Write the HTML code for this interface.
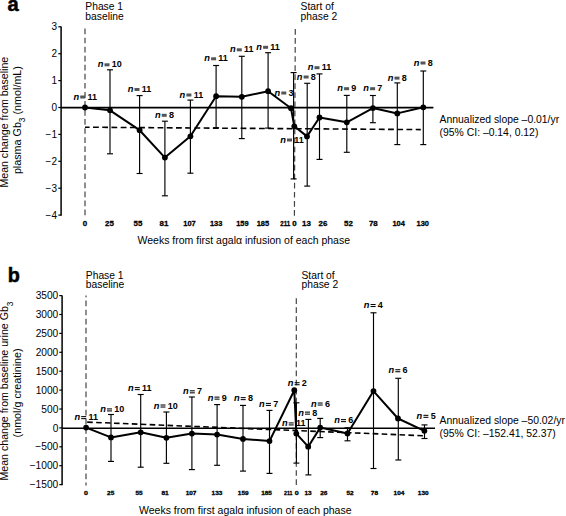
<!DOCTYPE html>
<html><head><meta charset="utf-8"><style>
html,body{margin:0;padding:0;background:#fff;width:566px;height:516px;overflow:hidden}
svg{display:block}
text{font-family:"Liberation Sans", sans-serif}
</style></head><body>
<svg width="566" height="516" viewBox="0 0 566 516">
<rect width="566" height="516" fill="#fff"/>
<g font-family='"Liberation Sans", sans-serif' fill="#000">
<text x="7.4" y="11.2" font-size="20.2" font-weight="bold" stroke="#000" stroke-width="0.5">a</text>
<text x="7.7" y="282.3" font-size="19.8" font-weight="bold" stroke="#000" stroke-width="0.5">b</text>
<text x="85.3" y="10.1" font-size="10.3">Phase 1</text><text x="85.3" y="19.6" font-size="10.3">baseline</text>
<text x="300.6" y="9.8" font-size="10.3">Start of</text><text x="300.6" y="19.5" font-size="10.3">phase 2</text>
<text x="85.8" y="278.9" font-size="10.3">Phase 1</text><text x="85.8" y="288.3" font-size="10.3">baseline</text>
<text x="301.5" y="278.7" font-size="10.3">Start of</text><text x="301.5" y="287.9" font-size="10.3">phase 2</text>
<line x1="61.1" y1="26.5" x2="61.1" y2="215.8" stroke="#000" stroke-width="1.5"/>
<line x1="58.300000000000004" y1="26.80" x2="61.1" y2="26.80" stroke="#000" stroke-width="1.2"/>
<text x="57.0" y="30.20" text-anchor="end" font-size="10.0">3</text>
<line x1="58.300000000000004" y1="53.70" x2="61.1" y2="53.70" stroke="#000" stroke-width="1.2"/>
<text x="57.0" y="57.10" text-anchor="end" font-size="10.0">2</text>
<line x1="58.300000000000004" y1="80.60" x2="61.1" y2="80.60" stroke="#000" stroke-width="1.2"/>
<text x="57.0" y="84.00" text-anchor="end" font-size="10.0">1</text>
<line x1="58.300000000000004" y1="107.50" x2="61.1" y2="107.50" stroke="#000" stroke-width="1.2"/>
<text x="57.0" y="110.90" text-anchor="end" font-size="10.0">0</text>
<line x1="58.300000000000004" y1="134.40" x2="61.1" y2="134.40" stroke="#000" stroke-width="1.2"/>
<text x="57.0" y="137.80" text-anchor="end" font-size="10.0">−1</text>
<line x1="58.300000000000004" y1="161.30" x2="61.1" y2="161.30" stroke="#000" stroke-width="1.2"/>
<text x="57.0" y="164.70" text-anchor="end" font-size="10.0">−2</text>
<line x1="58.300000000000004" y1="188.20" x2="61.1" y2="188.20" stroke="#000" stroke-width="1.2"/>
<text x="57.0" y="191.60" text-anchor="end" font-size="10.0">−3</text>
<line x1="58.300000000000004" y1="215.10" x2="61.1" y2="215.10" stroke="#000" stroke-width="1.2"/>
<text x="57.0" y="218.50" text-anchor="end" font-size="10.0">−4</text>
<line x1="61.1" y1="107.6" x2="433.4" y2="107.6" stroke="#000" stroke-width="1.6"/>
<line x1="85" y1="28.6" x2="85" y2="216" stroke="#444" stroke-width="1.2" stroke-dasharray="5.7 3.35" stroke-dashoffset="0"/>
<line x1="295.3" y1="29" x2="294.4" y2="216" stroke="#444" stroke-width="1.2" stroke-dasharray="5.7 3.35" stroke-dashoffset="0"/>
<line x1="85" y1="127.2" x2="420.8" y2="129.6" stroke="#000" stroke-width="1.6" stroke-dasharray="5.8 3.42" stroke-dashoffset="1.2"/>
<line x1="110" y1="69.8" x2="110" y2="153.8" stroke="#000" stroke-width="1.15"/>
<line x1="107" y1="69.8" x2="113" y2="69.8" stroke="#000" stroke-width="1.15"/>
<line x1="107" y1="153.8" x2="113" y2="153.8" stroke="#000" stroke-width="1.15"/>
<line x1="139.6" y1="95.6" x2="139.6" y2="173.5" stroke="#000" stroke-width="1.15"/>
<line x1="136.6" y1="95.6" x2="142.6" y2="95.6" stroke="#000" stroke-width="1.15"/>
<line x1="136.6" y1="173.5" x2="142.6" y2="173.5" stroke="#000" stroke-width="1.15"/>
<line x1="164.9" y1="121.2" x2="164.9" y2="195.8" stroke="#000" stroke-width="1.15"/>
<line x1="161.9" y1="121.2" x2="167.9" y2="121.2" stroke="#000" stroke-width="1.15"/>
<line x1="161.9" y1="195.8" x2="167.9" y2="195.8" stroke="#000" stroke-width="1.15"/>
<line x1="190.4" y1="100.1" x2="190.4" y2="173.2" stroke="#000" stroke-width="1.15"/>
<line x1="187.4" y1="100.1" x2="193.4" y2="100.1" stroke="#000" stroke-width="1.15"/>
<line x1="187.4" y1="173.2" x2="193.4" y2="173.2" stroke="#000" stroke-width="1.15"/>
<line x1="216.1" y1="65.5" x2="216.1" y2="127.8" stroke="#000" stroke-width="1.15"/>
<line x1="213.1" y1="65.5" x2="219.1" y2="65.5" stroke="#000" stroke-width="1.15"/>
<line x1="213.1" y1="127.8" x2="219.1" y2="127.8" stroke="#000" stroke-width="1.15"/>
<line x1="241.8" y1="56.3" x2="241.8" y2="138.6" stroke="#000" stroke-width="1.15"/>
<line x1="238.8" y1="56.3" x2="244.8" y2="56.3" stroke="#000" stroke-width="1.15"/>
<line x1="238.8" y1="138.6" x2="244.8" y2="138.6" stroke="#000" stroke-width="1.15"/>
<line x1="268.1" y1="52.7" x2="268.1" y2="128.1" stroke="#000" stroke-width="1.15"/>
<line x1="265.1" y1="52.7" x2="271.1" y2="52.7" stroke="#000" stroke-width="1.15"/>
<line x1="265.1" y1="128.1" x2="271.1" y2="128.1" stroke="#000" stroke-width="1.15"/>
<line x1="293.6" y1="72.6" x2="293.6" y2="178.9" stroke="#000" stroke-width="1.15"/>
<line x1="290.6" y1="72.6" x2="296.6" y2="72.6" stroke="#000" stroke-width="1.15"/>
<line x1="290.6" y1="178.9" x2="296.6" y2="178.9" stroke="#000" stroke-width="1.15"/>
<line x1="307.2" y1="83.3" x2="307.2" y2="186.1" stroke="#000" stroke-width="1.15"/>
<line x1="304.2" y1="83.3" x2="310.2" y2="83.3" stroke="#000" stroke-width="1.15"/>
<line x1="304.2" y1="186.1" x2="310.2" y2="186.1" stroke="#000" stroke-width="1.15"/>
<line x1="319.5" y1="73.9" x2="319.5" y2="159.4" stroke="#000" stroke-width="1.15"/>
<line x1="316.5" y1="73.9" x2="322.5" y2="73.9" stroke="#000" stroke-width="1.15"/>
<line x1="316.5" y1="159.4" x2="322.5" y2="159.4" stroke="#000" stroke-width="1.15"/>
<line x1="346.8" y1="95.4" x2="346.8" y2="152.3" stroke="#000" stroke-width="1.15"/>
<line x1="343.8" y1="95.4" x2="349.8" y2="95.4" stroke="#000" stroke-width="1.15"/>
<line x1="343.8" y1="152.3" x2="349.8" y2="152.3" stroke="#000" stroke-width="1.15"/>
<line x1="372.9" y1="95.5" x2="372.9" y2="122.7" stroke="#000" stroke-width="1.15"/>
<line x1="369.9" y1="95.5" x2="375.9" y2="95.5" stroke="#000" stroke-width="1.15"/>
<line x1="369.9" y1="122.7" x2="375.9" y2="122.7" stroke="#000" stroke-width="1.15"/>
<line x1="397.3" y1="82.9" x2="397.3" y2="144.6" stroke="#000" stroke-width="1.15"/>
<line x1="394.3" y1="82.9" x2="400.3" y2="82.9" stroke="#000" stroke-width="1.15"/>
<line x1="394.3" y1="144.6" x2="400.3" y2="144.6" stroke="#000" stroke-width="1.15"/>
<line x1="423.3" y1="71" x2="423.3" y2="144.6" stroke="#000" stroke-width="1.15"/>
<line x1="420.3" y1="71" x2="426.3" y2="71" stroke="#000" stroke-width="1.15"/>
<line x1="420.3" y1="144.6" x2="426.3" y2="144.6" stroke="#000" stroke-width="1.15"/>
<polyline points="85,107.5 110,110.3 139.6,130.2 164.9,157.6 190.4,136.3 216.1,96.2 241.8,96.8 268.1,91.2 291,108.2 294.3,126.3 307,136.4 319.5,117.5 346.8,122.3 372.9,108.1 397.3,113.4 423.3,107.3" fill="none" stroke="#000" stroke-width="2" stroke-linejoin="round"/>
<circle cx="85" cy="107.5" r="2.9" fill="#000"/>
<circle cx="110" cy="110.3" r="2.9" fill="#000"/>
<circle cx="139.6" cy="130.2" r="2.9" fill="#000"/>
<circle cx="164.9" cy="157.6" r="2.9" fill="#000"/>
<circle cx="190.4" cy="136.3" r="2.9" fill="#000"/>
<circle cx="216.1" cy="96.2" r="2.9" fill="#000"/>
<circle cx="241.8" cy="96.8" r="2.9" fill="#000"/>
<circle cx="268.1" cy="91.2" r="2.9" fill="#000"/>
<circle cx="291" cy="108.2" r="2.9" fill="#000"/>
<circle cx="294.3" cy="126.3" r="2.9" fill="#000"/>
<circle cx="307" cy="136.4" r="2.9" fill="#000"/>
<circle cx="319.5" cy="117.5" r="2.9" fill="#000"/>
<circle cx="346.8" cy="122.3" r="2.9" fill="#000"/>
<circle cx="372.9" cy="108.1" r="2.9" fill="#000"/>
<circle cx="397.3" cy="113.4" r="2.9" fill="#000"/>
<circle cx="423.3" cy="107.3" r="2.9" fill="#000"/>
<text x="73.40" y="99.50" font-size="9.3" font-weight="bold" font-style="italic">n</text><rect x="80.20" y="95.50" width="5" height="3" fill="#555"/><text x="87.45" y="99.50" font-size="9" font-weight="bold">11</text>
<text x="97.70" y="67.30" font-size="9.3" font-weight="bold" font-style="italic">n</text><rect x="104.50" y="63.30" width="5" height="3" fill="#555"/><text x="111.75" y="67.30" font-size="9" font-weight="bold">10</text>
<text x="127.70" y="92.00" font-size="9.3" font-weight="bold" font-style="italic">n</text><rect x="134.50" y="88.00" width="5" height="3" fill="#555"/><text x="141.75" y="92.00" font-size="9" font-weight="bold">11</text>
<text x="154.90" y="117.80" font-size="9.3" font-weight="bold" font-style="italic">n</text><rect x="161.70" y="113.80" width="5" height="3" fill="#555"/><text x="168.95" y="117.80" font-size="9" font-weight="bold">8</text>
<text x="179.60" y="97.50" font-size="9.3" font-weight="bold" font-style="italic">n</text><rect x="186.40" y="93.50" width="5" height="3" fill="#555"/><text x="193.65" y="97.50" font-size="9" font-weight="bold">11</text>
<text x="204.30" y="61.30" font-size="9.3" font-weight="bold" font-style="italic">n</text><rect x="211.10" y="57.30" width="5" height="3" fill="#555"/><text x="218.35" y="61.30" font-size="9" font-weight="bold">11</text>
<text x="230.00" y="52.30" font-size="9.3" font-weight="bold" font-style="italic">n</text><rect x="236.80" y="48.30" width="5" height="3" fill="#555"/><text x="244.05" y="52.30" font-size="9" font-weight="bold">11</text>
<text x="256.30" y="49.80" font-size="9.3" font-weight="bold" font-style="italic">n</text><rect x="263.10" y="45.80" width="5" height="3" fill="#555"/><text x="270.35" y="49.80" font-size="9" font-weight="bold">11</text>
<text x="274.50" y="95.50" font-size="9.3" font-weight="bold" font-style="italic">n</text><rect x="281.30" y="91.50" width="5" height="3" fill="#555"/><text x="288.55" y="95.50" font-size="9" font-weight="bold">3</text>
<text x="280.20" y="142.50" font-size="9.3" font-weight="bold" font-style="italic">n</text><rect x="287.00" y="138.50" width="5" height="3" fill="#555"/><text x="294.25" y="142.50" font-size="9" font-weight="bold">11</text>
<text x="296.80" y="79.50" font-size="9.3" font-weight="bold" font-style="italic">n</text><rect x="303.60" y="75.50" width="5" height="3" fill="#555"/><text x="310.85" y="79.50" font-size="9" font-weight="bold">8</text>
<text x="307.70" y="70.20" font-size="9.3" font-weight="bold" font-style="italic">n</text><rect x="314.50" y="66.20" width="5" height="3" fill="#555"/><text x="321.75" y="70.20" font-size="9" font-weight="bold">11</text>
<text x="337.30" y="91.20" font-size="9.3" font-weight="bold" font-style="italic">n</text><rect x="344.10" y="87.20" width="5" height="3" fill="#555"/><text x="351.35" y="91.20" font-size="9" font-weight="bold">9</text>
<text x="363.30" y="91.20" font-size="9.3" font-weight="bold" font-style="italic">n</text><rect x="370.10" y="87.20" width="5" height="3" fill="#555"/><text x="377.35" y="91.20" font-size="9" font-weight="bold">7</text>
<text x="387.70" y="80.60" font-size="9.3" font-weight="bold" font-style="italic">n</text><rect x="394.50" y="76.60" width="5" height="3" fill="#555"/><text x="401.75" y="80.60" font-size="9" font-weight="bold">8</text>
<text x="413.70" y="65.50" font-size="9.3" font-weight="bold" font-style="italic">n</text><rect x="420.50" y="61.50" width="5" height="3" fill="#555"/><text x="427.75" y="65.50" font-size="9" font-weight="bold">8</text>
<text x="82.80" y="226.1" font-size="7.9" font-weight="bold" stroke="#000" stroke-width="0.3" textLength="4.40" lengthAdjust="spacingAndGlyphs">0</text>
<text x="105.10" y="226.1" font-size="7.9" font-weight="bold" stroke="#000" stroke-width="0.3" textLength="8.80" lengthAdjust="spacingAndGlyphs">25</text>
<text x="133.60" y="226.1" font-size="7.9" font-weight="bold" stroke="#000" stroke-width="0.3" textLength="8.80" lengthAdjust="spacingAndGlyphs">55</text>
<text x="159.60" y="226.1" font-size="7.9" font-weight="bold" stroke="#000" stroke-width="0.3" textLength="8.80" lengthAdjust="spacingAndGlyphs">81</text>
<text x="183.30" y="226.1" font-size="7.9" font-weight="bold" stroke="#000" stroke-width="0.3" textLength="12.40" lengthAdjust="spacingAndGlyphs">107</text>
<text x="209.90" y="226.1" font-size="7.9" font-weight="bold" stroke="#000" stroke-width="0.3" textLength="12.40" lengthAdjust="spacingAndGlyphs">133</text>
<text x="236.20" y="226.1" font-size="7.9" font-weight="bold" stroke="#000" stroke-width="0.3" textLength="12.40" lengthAdjust="spacingAndGlyphs">159</text>
<text x="256.70" y="226.1" font-size="7.9" font-weight="bold" stroke="#000" stroke-width="0.3" textLength="12.40" lengthAdjust="spacingAndGlyphs">185</text>
<text x="280.30" y="226.1" font-size="7.9" font-weight="bold" stroke="#000" stroke-width="0.3" textLength="10.00" lengthAdjust="spacingAndGlyphs">211</text>
<text x="292.20" y="226.1" font-size="7.9" font-weight="bold" stroke="#000" stroke-width="0.3" textLength="4.40" lengthAdjust="spacingAndGlyphs">0</text>
<text x="302.10" y="226.1" font-size="7.9" font-weight="bold" stroke="#000" stroke-width="0.3" textLength="8.80" lengthAdjust="spacingAndGlyphs">13</text>
<text x="318.50" y="226.1" font-size="7.9" font-weight="bold" stroke="#000" stroke-width="0.3" textLength="8.80" lengthAdjust="spacingAndGlyphs">26</text>
<text x="344.10" y="226.1" font-size="7.9" font-weight="bold" stroke="#000" stroke-width="0.3" textLength="8.80" lengthAdjust="spacingAndGlyphs">52</text>
<text x="368.90" y="226.1" font-size="7.9" font-weight="bold" stroke="#000" stroke-width="0.3" textLength="8.80" lengthAdjust="spacingAndGlyphs">78</text>
<text x="392.40" y="226.1" font-size="7.9" font-weight="bold" stroke="#000" stroke-width="0.3" textLength="12.40" lengthAdjust="spacingAndGlyphs">104</text>
<text x="416.60" y="226.1" font-size="7.9" font-weight="bold" stroke="#000" stroke-width="0.3" textLength="12.40" lengthAdjust="spacingAndGlyphs">130</text>
<line x1="62.1" y1="295.6" x2="62.1" y2="485.3" stroke="#000" stroke-width="1.5"/>
<line x1="59.300000000000004" y1="295.60" x2="62.1" y2="295.60" stroke="#000" stroke-width="1.2"/>
<text x="58.300000000000004" y="299.20" text-anchor="end" font-size="10.2">3500</text>
<line x1="59.300000000000004" y1="314.50" x2="62.1" y2="314.50" stroke="#000" stroke-width="1.2"/>
<text x="58.300000000000004" y="318.10" text-anchor="end" font-size="10.2">3000</text>
<line x1="59.300000000000004" y1="333.40" x2="62.1" y2="333.40" stroke="#000" stroke-width="1.2"/>
<text x="58.300000000000004" y="337.00" text-anchor="end" font-size="10.2">2500</text>
<line x1="59.300000000000004" y1="352.30" x2="62.1" y2="352.30" stroke="#000" stroke-width="1.2"/>
<text x="58.300000000000004" y="355.90" text-anchor="end" font-size="10.2">2000</text>
<line x1="59.300000000000004" y1="371.20" x2="62.1" y2="371.20" stroke="#000" stroke-width="1.2"/>
<text x="58.300000000000004" y="374.80" text-anchor="end" font-size="10.2">1500</text>
<line x1="59.300000000000004" y1="390.10" x2="62.1" y2="390.10" stroke="#000" stroke-width="1.2"/>
<text x="58.300000000000004" y="393.70" text-anchor="end" font-size="10.2">1000</text>
<line x1="59.300000000000004" y1="409.00" x2="62.1" y2="409.00" stroke="#000" stroke-width="1.2"/>
<text x="58.300000000000004" y="412.60" text-anchor="end" font-size="10.2">500</text>
<line x1="59.300000000000004" y1="427.90" x2="62.1" y2="427.90" stroke="#000" stroke-width="1.2"/>
<text x="58.300000000000004" y="431.50" text-anchor="end" font-size="10.2">0</text>
<line x1="59.300000000000004" y1="446.80" x2="62.1" y2="446.80" stroke="#000" stroke-width="1.2"/>
<text x="58.300000000000004" y="450.40" text-anchor="end" font-size="10.2">−500</text>
<line x1="59.300000000000004" y1="465.70" x2="62.1" y2="465.70" stroke="#000" stroke-width="1.2"/>
<text x="58.300000000000004" y="469.30" text-anchor="end" font-size="10.2">−1000</text>
<line x1="59.300000000000004" y1="484.60" x2="62.1" y2="484.60" stroke="#000" stroke-width="1.2"/>
<text x="58.300000000000004" y="488.20" text-anchor="end" font-size="10.2">−1500</text>
<line x1="62.1" y1="428.2" x2="435" y2="428.2" stroke="#000" stroke-width="1.6"/>
<line x1="86" y1="295.4" x2="86" y2="485.5" stroke="#444" stroke-width="1.2" stroke-dasharray="5.7 3.40" stroke-dashoffset="3.95"/>
<line x1="296.3" y1="298.2" x2="296.3" y2="485.5" stroke="#444" stroke-width="1.2" stroke-dasharray="5.7 3.35" stroke-dashoffset="0"/>
<line x1="87.2" y1="422.1" x2="422.9" y2="435.7" stroke="#000" stroke-width="1.6" stroke-dasharray="5.6 3.33" stroke-dashoffset="0"/>
<line x1="111" y1="414.5" x2="111" y2="461.4" stroke="#000" stroke-width="1.15"/>
<line x1="108" y1="414.5" x2="114" y2="414.5" stroke="#000" stroke-width="1.15"/>
<line x1="108" y1="461.4" x2="114" y2="461.4" stroke="#000" stroke-width="1.15"/>
<line x1="140.7" y1="394.5" x2="140.7" y2="467.2" stroke="#000" stroke-width="1.15"/>
<line x1="137.7" y1="394.5" x2="143.7" y2="394.5" stroke="#000" stroke-width="1.15"/>
<line x1="137.7" y1="467.2" x2="143.7" y2="467.2" stroke="#000" stroke-width="1.15"/>
<line x1="166.4" y1="412" x2="166.4" y2="463.3" stroke="#000" stroke-width="1.15"/>
<line x1="163.4" y1="412" x2="169.4" y2="412" stroke="#000" stroke-width="1.15"/>
<line x1="163.4" y1="463.3" x2="169.4" y2="463.3" stroke="#000" stroke-width="1.15"/>
<line x1="191.9" y1="397" x2="191.9" y2="469.6" stroke="#000" stroke-width="1.15"/>
<line x1="188.9" y1="397" x2="194.9" y2="397" stroke="#000" stroke-width="1.15"/>
<line x1="188.9" y1="469.6" x2="194.9" y2="469.6" stroke="#000" stroke-width="1.15"/>
<line x1="217.1" y1="404.6" x2="217.1" y2="465.3" stroke="#000" stroke-width="1.15"/>
<line x1="214.1" y1="404.6" x2="220.1" y2="404.6" stroke="#000" stroke-width="1.15"/>
<line x1="214.1" y1="465.3" x2="220.1" y2="465.3" stroke="#000" stroke-width="1.15"/>
<line x1="243" y1="405.4" x2="243" y2="471.1" stroke="#000" stroke-width="1.15"/>
<line x1="240" y1="405.4" x2="246" y2="405.4" stroke="#000" stroke-width="1.15"/>
<line x1="240" y1="471.1" x2="246" y2="471.1" stroke="#000" stroke-width="1.15"/>
<line x1="269.5" y1="410.4" x2="269.5" y2="473.4" stroke="#000" stroke-width="1.15"/>
<line x1="266.5" y1="410.4" x2="272.5" y2="410.4" stroke="#000" stroke-width="1.15"/>
<line x1="266.5" y1="473.4" x2="272.5" y2="473.4" stroke="#000" stroke-width="1.15"/>
<line x1="296.4" y1="402.8" x2="296.4" y2="463.1" stroke="#000" stroke-width="1.15"/>
<line x1="293.4" y1="402.8" x2="299.4" y2="402.8" stroke="#000" stroke-width="1.15"/>
<line x1="293.4" y1="463.1" x2="299.4" y2="463.1" stroke="#000" stroke-width="1.15"/>
<line x1="308.4" y1="419.4" x2="308.4" y2="474.9" stroke="#000" stroke-width="1.15"/>
<line x1="305.4" y1="419.4" x2="311.4" y2="419.4" stroke="#000" stroke-width="1.15"/>
<line x1="305.4" y1="474.9" x2="311.4" y2="474.9" stroke="#000" stroke-width="1.15"/>
<line x1="320.2" y1="418.4" x2="320.2" y2="437.6" stroke="#000" stroke-width="1.15"/>
<line x1="317.2" y1="418.4" x2="323.2" y2="418.4" stroke="#000" stroke-width="1.15"/>
<line x1="317.2" y1="437.6" x2="323.2" y2="437.6" stroke="#000" stroke-width="1.15"/>
<line x1="347.5" y1="427.8" x2="347.5" y2="440.8" stroke="#000" stroke-width="1.15"/>
<line x1="344.5" y1="427.8" x2="350.5" y2="427.8" stroke="#000" stroke-width="1.15"/>
<line x1="344.5" y1="440.8" x2="350.5" y2="440.8" stroke="#000" stroke-width="1.15"/>
<line x1="373.5" y1="312.8" x2="373.5" y2="468.5" stroke="#000" stroke-width="1.15"/>
<line x1="370.5" y1="312.8" x2="376.5" y2="312.8" stroke="#000" stroke-width="1.15"/>
<line x1="370.5" y1="468.5" x2="376.5" y2="468.5" stroke="#000" stroke-width="1.15"/>
<line x1="398.3" y1="378.3" x2="398.3" y2="460" stroke="#000" stroke-width="1.15"/>
<line x1="395.3" y1="378.3" x2="401.3" y2="378.3" stroke="#000" stroke-width="1.15"/>
<line x1="395.3" y1="460" x2="401.3" y2="460" stroke="#000" stroke-width="1.15"/>
<line x1="424.5" y1="424.9" x2="424.5" y2="438.5" stroke="#000" stroke-width="1.15"/>
<line x1="421.5" y1="424.9" x2="427.5" y2="424.9" stroke="#000" stroke-width="1.15"/>
<line x1="421.5" y1="438.5" x2="427.5" y2="438.5" stroke="#000" stroke-width="1.15"/>
<polyline points="86.1,427.6 111,437.4 140.7,432.3 166.4,437.8 191.9,433.6 217.1,434.6 243,438.9 269.5,441.1 294.3,390.2 296.3,433.6 308.2,446.7 320.2,427.6 347.5,433.4 373.5,391.1 398,418.5 424.4,430.8" fill="none" stroke="#000" stroke-width="2" stroke-linejoin="round"/>
<circle cx="86.1" cy="427.6" r="2.9" fill="#000"/>
<circle cx="111" cy="437.4" r="2.9" fill="#000"/>
<circle cx="140.7" cy="432.3" r="2.9" fill="#000"/>
<circle cx="166.4" cy="437.8" r="2.9" fill="#000"/>
<circle cx="191.9" cy="433.6" r="2.9" fill="#000"/>
<circle cx="217.1" cy="434.6" r="2.9" fill="#000"/>
<circle cx="243" cy="438.9" r="2.9" fill="#000"/>
<circle cx="269.5" cy="441.1" r="2.9" fill="#000"/>
<circle cx="294.3" cy="390.2" r="2.9" fill="#000"/>
<circle cx="296.3" cy="433.6" r="2.9" fill="#000"/>
<circle cx="308.2" cy="446.7" r="2.9" fill="#000"/>
<circle cx="320.2" cy="427.6" r="2.9" fill="#000"/>
<circle cx="347.5" cy="433.4" r="2.9" fill="#000"/>
<circle cx="373.5" cy="391.1" r="2.9" fill="#000"/>
<circle cx="398" cy="418.5" r="2.9" fill="#000"/>
<circle cx="424.4" cy="430.8" r="2.9" fill="#000"/>
<text x="74.40" y="420.10" font-size="9.3" font-weight="bold" font-style="italic">n</text><rect x="81.20" y="416.10" width="5" height="1.05" fill="#000"/><rect x="81.20" y="418.10" width="5" height="1.05" fill="#000"/><text x="88.45" y="420.10" font-size="9" font-weight="bold">11</text>
<text x="100.20" y="412.40" font-size="9.3" font-weight="bold" font-style="italic">n</text><rect x="107.00" y="408.40" width="5" height="1.05" fill="#000"/><rect x="107.00" y="410.40" width="5" height="1.05" fill="#000"/><text x="114.25" y="412.40" font-size="9" font-weight="bold">10</text>
<text x="128.00" y="391.10" font-size="9.3" font-weight="bold" font-style="italic">n</text><rect x="134.80" y="387.10" width="5" height="1.05" fill="#000"/><rect x="134.80" y="389.10" width="5" height="1.05" fill="#000"/><text x="142.05" y="391.10" font-size="9" font-weight="bold">11</text>
<text x="153.70" y="408.50" font-size="9.3" font-weight="bold" font-style="italic">n</text><rect x="160.50" y="404.50" width="5" height="1.05" fill="#000"/><rect x="160.50" y="406.50" width="5" height="1.05" fill="#000"/><text x="167.75" y="408.50" font-size="9" font-weight="bold">10</text>
<text x="183.00" y="394.30" font-size="9.3" font-weight="bold" font-style="italic">n</text><rect x="189.80" y="390.30" width="5" height="1.05" fill="#000"/><rect x="189.80" y="392.30" width="5" height="1.05" fill="#000"/><text x="197.05" y="394.30" font-size="9" font-weight="bold">7</text>
<text x="207.70" y="400.60" font-size="9.3" font-weight="bold" font-style="italic">n</text><rect x="214.50" y="396.60" width="5" height="1.05" fill="#000"/><rect x="214.50" y="398.60" width="5" height="1.05" fill="#000"/><text x="221.75" y="400.60" font-size="9" font-weight="bold">9</text>
<text x="233.90" y="401.10" font-size="9.3" font-weight="bold" font-style="italic">n</text><rect x="240.70" y="397.10" width="5" height="1.05" fill="#000"/><rect x="240.70" y="399.10" width="5" height="1.05" fill="#000"/><text x="247.95" y="401.10" font-size="9" font-weight="bold">8</text>
<text x="259.10" y="406.90" font-size="9.3" font-weight="bold" font-style="italic">n</text><rect x="265.90" y="402.90" width="5" height="1.05" fill="#000"/><rect x="265.90" y="404.90" width="5" height="1.05" fill="#000"/><text x="273.15" y="406.90" font-size="9" font-weight="bold">7</text>
<text x="287.80" y="386.20" font-size="9.3" font-weight="bold" font-style="italic">n</text><rect x="294.60" y="382.20" width="5" height="1.05" fill="#000"/><rect x="294.60" y="384.20" width="5" height="1.05" fill="#000"/><text x="301.85" y="386.20" font-size="9" font-weight="bold">2</text>
<text x="281.90" y="426.40" font-size="9.3" font-weight="bold" font-style="italic">n</text><rect x="288.70" y="422.40" width="5" height="1.05" fill="#000"/><rect x="288.70" y="424.40" width="5" height="1.05" fill="#000"/><text x="295.95" y="426.40" font-size="9" font-weight="bold">11</text>
<text x="298.20" y="415.60" font-size="9.3" font-weight="bold" font-style="italic">n</text><rect x="305.00" y="411.60" width="5" height="1.05" fill="#000"/><rect x="305.00" y="413.60" width="5" height="1.05" fill="#000"/><text x="312.25" y="415.60" font-size="9" font-weight="bold">8</text>
<text x="310.90" y="406.50" font-size="9.3" font-weight="bold" font-style="italic">n</text><rect x="317.70" y="402.50" width="5" height="1.05" fill="#000"/><rect x="317.70" y="404.50" width="5" height="1.05" fill="#000"/><text x="324.95" y="406.50" font-size="9" font-weight="bold">6</text>
<text x="334.20" y="423.10" font-size="9.3" font-weight="bold" font-style="italic">n</text><rect x="341.00" y="419.10" width="5" height="1.05" fill="#000"/><rect x="341.00" y="421.10" width="5" height="1.05" fill="#000"/><text x="348.25" y="423.10" font-size="9" font-weight="bold">6</text>
<text x="363.80" y="308.00" font-size="9.3" font-weight="bold" font-style="italic">n</text><rect x="370.60" y="304.00" width="5" height="1.05" fill="#000"/><rect x="370.60" y="306.00" width="5" height="1.05" fill="#000"/><text x="377.85" y="308.00" font-size="9" font-weight="bold">4</text>
<text x="388.50" y="373.20" font-size="9.3" font-weight="bold" font-style="italic">n</text><rect x="395.30" y="369.20" width="5" height="1.05" fill="#000"/><rect x="395.30" y="371.20" width="5" height="1.05" fill="#000"/><text x="402.55" y="373.20" font-size="9" font-weight="bold">6</text>
<text x="416.60" y="418.80" font-size="9.3" font-weight="bold" font-style="italic">n</text><rect x="423.40" y="414.80" width="5" height="1.05" fill="#000"/><rect x="423.40" y="416.80" width="5" height="1.05" fill="#000"/><text x="430.65" y="418.80" font-size="9" font-weight="bold">5</text>
<text x="84.00" y="495.3" font-size="5.9" font-weight="bold" stroke="#000" stroke-width="0.3" textLength="4.00" lengthAdjust="spacingAndGlyphs">0</text>
<text x="107.10" y="495.3" font-size="5.9" font-weight="bold" stroke="#000" stroke-width="0.3" textLength="7.20" lengthAdjust="spacingAndGlyphs">25</text>
<text x="135.50" y="495.3" font-size="5.9" font-weight="bold" stroke="#000" stroke-width="0.3" textLength="7.20" lengthAdjust="spacingAndGlyphs">55</text>
<text x="161.50" y="495.3" font-size="5.9" font-weight="bold" stroke="#000" stroke-width="0.3" textLength="7.20" lengthAdjust="spacingAndGlyphs">81</text>
<text x="185.70" y="495.3" font-size="5.9" font-weight="bold" stroke="#000" stroke-width="0.3" textLength="10.80" lengthAdjust="spacingAndGlyphs">107</text>
<text x="211.60" y="495.3" font-size="5.9" font-weight="bold" stroke="#000" stroke-width="0.3" textLength="10.80" lengthAdjust="spacingAndGlyphs">133</text>
<text x="237.80" y="495.3" font-size="5.9" font-weight="bold" stroke="#000" stroke-width="0.3" textLength="10.80" lengthAdjust="spacingAndGlyphs">159</text>
<text x="261.20" y="495.3" font-size="5.9" font-weight="bold" stroke="#000" stroke-width="0.3" textLength="10.80" lengthAdjust="spacingAndGlyphs">185</text>
<text x="284.10" y="495.3" font-size="5.9" font-weight="bold" stroke="#000" stroke-width="0.3" textLength="8.40" lengthAdjust="spacingAndGlyphs">211</text>
<text x="294.80" y="495.3" font-size="5.9" font-weight="bold" stroke="#000" stroke-width="0.3" textLength="4.00" lengthAdjust="spacingAndGlyphs">0</text>
<text x="304.50" y="495.3" font-size="5.9" font-weight="bold" stroke="#000" stroke-width="0.3" textLength="7.20" lengthAdjust="spacingAndGlyphs">13</text>
<text x="320.20" y="495.3" font-size="5.9" font-weight="bold" stroke="#000" stroke-width="0.3" textLength="7.20" lengthAdjust="spacingAndGlyphs">26</text>
<text x="346.50" y="495.3" font-size="5.9" font-weight="bold" stroke="#000" stroke-width="0.3" textLength="7.20" lengthAdjust="spacingAndGlyphs">52</text>
<text x="370.80" y="495.3" font-size="5.9" font-weight="bold" stroke="#000" stroke-width="0.3" textLength="7.20" lengthAdjust="spacingAndGlyphs">78</text>
<text x="393.60" y="495.3" font-size="5.9" font-weight="bold" stroke="#000" stroke-width="0.3" textLength="10.80" lengthAdjust="spacingAndGlyphs">104</text>
<text x="417.80" y="495.3" font-size="5.9" font-weight="bold" stroke="#000" stroke-width="0.3" textLength="10.80" lengthAdjust="spacingAndGlyphs">130</text>
<text x="439.6" y="123.3" font-size="10.4">Annualized slope –0.01/yr</text><text x="439.6" y="136.0" font-size="10.4">(95% CI: –0.14, 0.12)</text>
<text x="439.6" y="424.2" font-size="10.4">Annualized slope –50.02/yr</text><text x="439.6" y="436.6" font-size="10.4">(95% CI: –152.41, 52.37)</text>
<text x="243.8" y="243.8" text-anchor="middle" font-size="10.5">Weeks from first agalα infusion of each phase</text>
<text x="245.3" y="513.5" text-anchor="middle" font-size="10.5">Weeks from first agalα infusion of each phase</text>
<g transform="translate(7.9,122.2) rotate(-90)"><text x="0" y="0" text-anchor="middle" font-size="10.6">Mean change from baseline</text></g>
<g transform="translate(20.8,120.1) rotate(-90)"><text x="0" y="0" text-anchor="middle" font-size="10.75">plasma Gb<tspan font-size="8.4" dy="4.6">3</tspan><tspan dy="-4.6"> (nmol/mL)</tspan></text></g>
<g transform="translate(7.9,391) rotate(-90)"><text x="0" y="0" text-anchor="middle" font-size="10.6">Mean change from baseline urine Gb<tspan font-size="8.4" dy="4.6">3</tspan></text></g>
<g transform="translate(20.8,392.9) rotate(-90)"><text x="0" y="0" text-anchor="middle" font-size="10.75">(nmol/g creatinine)</text></g>
</g></svg>
</body></html>
